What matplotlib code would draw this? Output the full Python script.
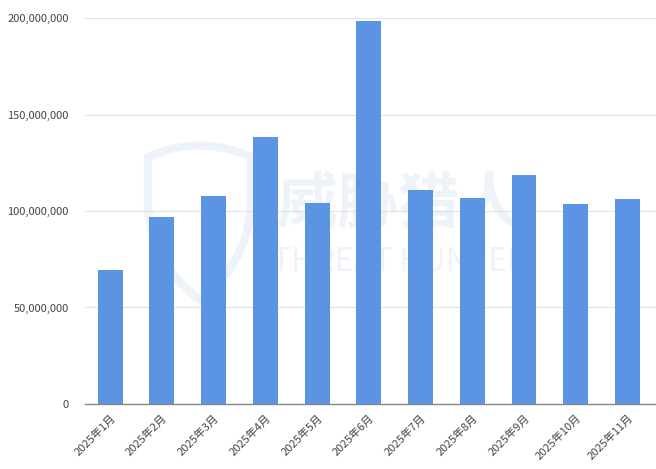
import matplotlib
matplotlib.use("Agg")
import matplotlib.pyplot as plt
from matplotlib.ticker import FuncFormatter
from matplotlib.path import Path
from matplotlib.patches import PathPatch

plt.rcParams['font.family'] = ['Noto Sans CJK SC', 'DejaVu Sans']

months = ["2025年1月", "2025年2月", "2025年3月", "2025年4月", "2025年5月", "2025年6月",
          "2025年7月", "2025年8月", "2025年9月", "2025年10月", "2025年11月"]
counts = [69400000, 96900000, 107800000, 138300000, 104100000, 198400000,
          110900000, 106700000, 118700000, 103600000, 106200000]

fig = plt.figure(figsize=(6.56, 4.69), dpi=100)
ax = fig.add_axes([0.13, 0.1386, 0.87, 0.823])

x = range(len(months))
ax.bar(x, counts, width=0.48, color="#5b94e3", zorder=3)

ax.set_ylim(0, 200000000)
ax.set_yticks([0, 50000000, 100000000, 150000000, 200000000])
ax.yaxis.set_major_formatter(FuncFormatter(lambda v, p: f"{int(v):,}"))
ax.grid(axis="y", color="#e2e2e2", linewidth=0.8, zorder=1)
ax.set_axisbelow(True)
ax.set_xlim(-0.48, 10.55)
ax.set_xticks(list(x))
ax.set_xticklabels(months, rotation=45, ha="right", rotation_mode="anchor")
ax.tick_params(axis="both", length=0, labelsize=8, labelcolor="#444444")
ax.tick_params(axis="y", pad=12)
ax.tick_params(axis="x", pad=6)

for side in ["top", "right", "left"]:
    ax.spines[side].set_visible(False)
ax.spines["bottom"].set_color("#888888")
ax.spines["bottom"].set_linewidth(1.0)
ax.spines["bottom"].set_zorder(4)

# faint watermark behind the bars
wm = "#eef2f9"
ax.text(0.55, 0.515, "威胁猎人", transform=ax.transAxes, fontsize=44, color=wm,
        ha="center", va="center", fontweight="bold", zorder=0.5)
ax.text(0.55, 0.368, "THREAT HUNTER", transform=ax.transAxes, fontsize=23, color=wm,
        ha="center", va="center", zorder=0.5)
shield = Path([(0.11, 0.64), (0.20, 0.70), (0.29, 0.64),
               (0.29, 0.50), (0.28, 0.36), (0.20, 0.27),
               (0.12, 0.36), (0.11, 0.50), (0.11, 0.64)],
              [Path.MOVETO, Path.CURVE3, Path.CURVE3,
               Path.LINETO, Path.CURVE3, Path.CURVE3,
               Path.CURVE3, Path.CURVE3, Path.CLOSEPOLY])
ax.add_patch(PathPatch(shield, transform=ax.transAxes, facecolor="none",
                       edgecolor=wm, linewidth=6, zorder=0.5, joinstyle="round"))

fig.savefig("out.png", dpi=100)
